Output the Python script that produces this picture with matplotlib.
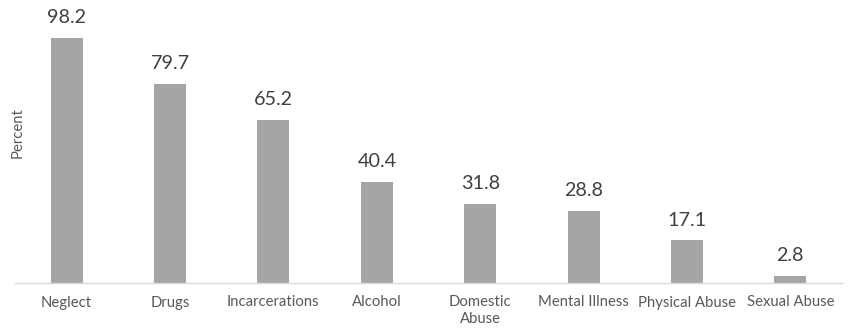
import matplotlib
matplotlib.use("Agg")
import matplotlib.pyplot as plt

categories = ["Neglect", "Drugs", "Incarcerations", "Alcohol", "Domestic\nAbuse",
              "Mental Illness", "Physical Abuse", "Sexual Abuse"]
percent = [98.2, 79.7, 65.2, 40.4, 31.8, 28.8, 17.1, 2.8]

plt.rcParams['font.family'] = ['Lato', 'DejaVu Sans']

W, H = 848, 334
fig = plt.figure(figsize=(W / 100, H / 100), dpi=100)
ax = fig.add_axes([15 / W, (H - 283) / H, (842 - 15) / W, 283 / H])

x = range(len(categories))
ax.bar(x, percent, width=0.31, color='#A5A5A5', zorder=2)
ax.set_xlim(-0.5, len(categories) - 0.5)
ax.set_ylim(0, 113.4)

for xi, v in zip(x, percent):
    ax.annotate(f"{v}", (xi, v), xytext=(0, 8.5), textcoords='offset points',
                ha='center', va='bottom', fontsize=14.2, color='#404040')

for s in ['top', 'right', 'left']:
    ax.spines[s].set_visible(False)
ax.spines['bottom'].set_color('#D9D9D9')
ax.spines['bottom'].set_linewidth(1.0)
ax.set_yticks([])
ax.set_xticks(list(x))
ax.set_xticklabels(categories, fontsize=10.7, color='#595959', linespacing=1.25)
ax.tick_params(axis='x', length=0, pad=9)

fig.text(18 / W, 1 - 133 / H, "Percent", rotation=90, ha='center', va='center',
         fontsize=10.7, color='#595959')

fig.savefig("out.png", dpi=100)
